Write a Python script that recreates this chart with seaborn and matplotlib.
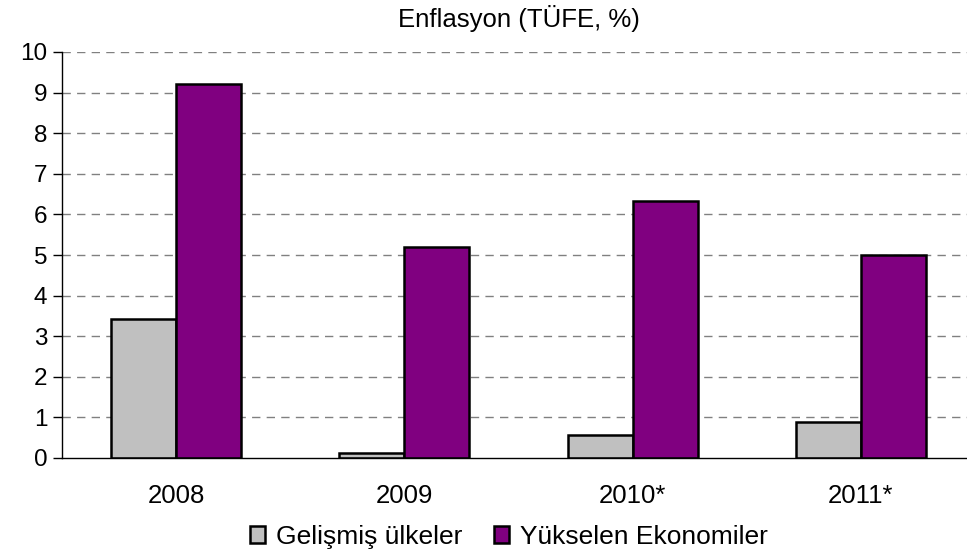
import pandas as pd
import matplotlib.pyplot as plt
import seaborn as sns

yillar = ['2008', '2009', '2010*', '2011*']
gelismis = [3.42, 0.12, 0.57, 0.88]
yukselen = [9.2, 5.2, 6.32, 5.0]
seriler = ['Gelişmiş ülkeler', 'Yükselen Ekonomiler']
renkler = ['#C0C0C0', '#800080']

df = pd.DataFrame({
    'Yil': yillar * 2,
    'Seri': [seriler[0]] * 4 + [seriler[1]] * 4,
    'Deger': gelismis + yukselen,
})

sns.set_style("white")
plt.rcParams['font.family'] = ['Liberation Sans', 'DejaVu Sans']
plt.rcParams['text.color'] = 'black'
plt.rcParams['xtick.color'] = 'black'
plt.rcParams['ytick.color'] = 'black'

fig = plt.figure(figsize=(9.67, 5.56), dpi=100)
ax = fig.add_axes([62 / 967, 98 / 556, 913 / 967, 406 / 556])

sns.barplot(data=df, x='Yil', y='Deger', hue='Seri', palette=renkler,
            width=0.57, gap=0, edgecolor='black', linewidth=1.8,
            saturation=1, ax=ax)

ax.set_ylim(0, 10)
ax.set_xlim(-0.5, 3.5)
ax.set_yticks(range(0, 11))
for y in range(1, 11):
    ax.axhline(y, color='#808080', linestyle=(0, (6, 4.5)), linewidth=1, zorder=0)
ax.set_axisbelow(True)

ax.set_xlabel('')
ax.set_ylabel('')
ax.set_title('Enflasyon (TÜFE, %)', fontsize=18.5, pad=18, color='black')

# x eksenindeki küçük çentikler kategoriler arasında
ax.set_xticks([-0.5, 0.5, 1.5, 2.5], minor=True)
ax.tick_params(axis='x', which='major', length=0, labelsize=18.5, pad=19)
ax.tick_params(axis='x', which='minor', length=6, width=1, color='black', direction='out')
ax.tick_params(axis='y', length=6.5, width=1, color='black', direction='out',
               labelsize=17.5, left=True, pad=4)

for s in ['top', 'right']:
    ax.spines[s].set_visible(False)
ax.spines['left'].set_color('black')
ax.spines['bottom'].set_color('black')
ax.spines['left'].set_linewidth(1)
ax.spines['bottom'].set_linewidth(1)

leg = ax.legend(loc='center', bbox_to_anchor=(509 / 967, 1 - 537 / 556),
                bbox_transform=fig.transFigure, ncol=2,
                frameon=False, fontsize=19, handlelength=0.58, handleheight=0.58,
                handletextpad=0.4, columnspacing=1.2, borderpad=0)
for t in leg.get_texts():
    t.set_color('black')

fig.savefig('out.png', dpi=100)
